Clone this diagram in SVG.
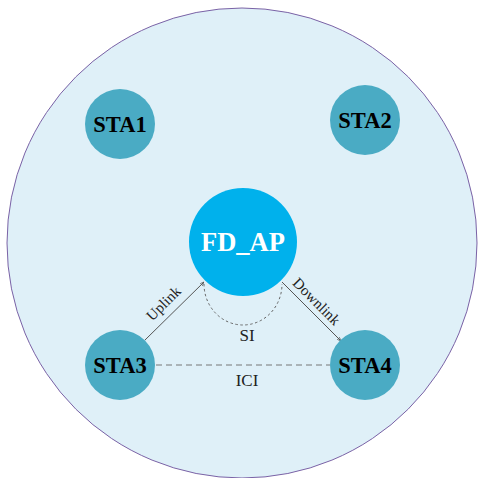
<svg xmlns="http://www.w3.org/2000/svg" width="478" height="478" viewBox="0 0 478 478">
<style>
.sta{fill:#4aabc4}
.ap{fill:#00b1ec}
.nt{font-family:"Liberation Serif",serif;font-weight:bold;font-size:22.5px;fill:#000;text-anchor:middle}
.apt{font-family:"Liberation Serif",serif;font-weight:bold;font-size:26.5px;fill:#fff;text-anchor:middle}
.lb{font-family:"Liberation Serif",serif;font-size:17px;fill:#222;text-anchor:middle}
.sl{font-family:"Liberation Serif",serif;font-size:15px;fill:#222;text-anchor:middle}
.ln{stroke:#555;stroke-width:1;fill:none}
.dl{stroke:#777;stroke-width:1.2;fill:none;stroke-dasharray:6 4}
.dt{stroke:#666;stroke-width:1;fill:none;stroke-dasharray:2.5 2.5}
</style>
<defs>
<marker id="ah" viewBox="0 0 6 6" refX="6" refY="3" markerWidth="4" markerHeight="4" orient="auto"><path d="M0,0.5 L6,3 L0,5.5" fill="none" stroke="#555" stroke-width="1"/></marker>
</defs>
<circle cx="242" cy="243" r="235" fill="#dff0f8" stroke="#7a62a6" stroke-width="1"/>
<g id="connectors">
<line class="ln" x1="145" y1="340" x2="204" y2="282" marker-end="url(#ah)"/>
<line class="ln" x1="282" y1="282" x2="341" y2="341" marker-end="url(#ah)"/>
<line class="dl" x1="156" y1="365" x2="330" y2="365"/>
<path class="dt" d="M204,284 A39,41 0 0 0 282,284"/>
<text class="sl" transform="translate(167,307) rotate(-45)">Uplink</text>
<text class="sl" transform="translate(313,305) rotate(45)">Downlink</text>
<text class="lb" x="247" y="341">SI</text>
<text class="lb" x="247" y="386">ICI</text>
</g>
<g id="STA1"><circle class="sta" cx="120" cy="124" r="35"/><text class="nt" x="120" y="132">STA1</text></g>
<g id="STA2"><circle class="sta" cx="365" cy="120" r="35"/><text class="nt" x="365" y="128">STA2</text></g>
<g id="FD_AP"><circle class="ap" cx="243" cy="242" r="54"/><text class="apt" x="243" y="251">FD_AP</text></g>
<g id="STA3"><circle class="sta" cx="120" cy="365" r="35"/><text class="nt" x="120" y="373">STA3</text></g>
<g id="STA4"><circle class="sta" cx="365" cy="365" r="35"/><text class="nt" x="365" y="373">STA4</text></g>
</svg>
